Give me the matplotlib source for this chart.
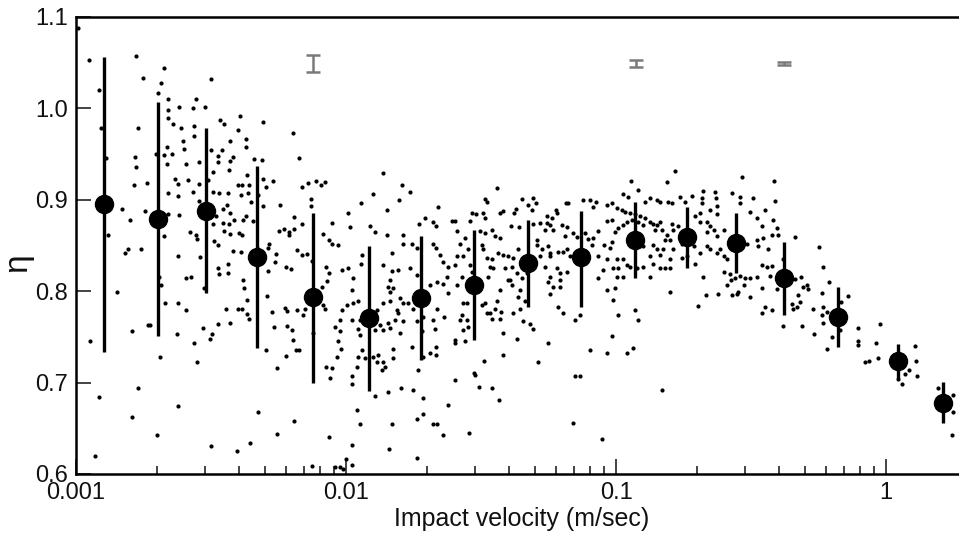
import numpy as np
import matplotlib.pyplot as plt
from matplotlib.ticker import LogLocator, NullFormatter, FormatStrFormatter

plt.rcParams['font.family'] = ['Liberation Sans', 'DejaVu Sans']

# binned averages with their spread
bin_velocity = [0.00127, 0.00201, 0.00303, 0.00468, 0.00755, 0.01217, 0.01896, 0.0298, 0.0472,
                0.0742, 0.1176, 0.1833, 0.278, 0.419, 0.664, 1.108, 1.626]
bin_eta = [0.895, 0.879, 0.888, 0.837, 0.794, 0.771, 0.793, 0.807, 0.831,
           0.837, 0.856, 0.859, 0.853, 0.814, 0.772, 0.724, 0.678]
bin_top = [1.056, 1.007, 0.979, 0.937, 0.886, 0.849, 0.860, 0.867, 0.878,
           0.888, 0.898, 0.892, 0.886, 0.854, 0.805, 0.742, 0.701]
bin_bottom = [0.733, 0.751, 0.798, 0.738, 0.700, 0.691, 0.725, 0.747, 0.783,
              0.783, 0.814, 0.825, 0.820, 0.774, 0.739, 0.705, 0.656]

# typical measurement error, drawn at the top
gray_velocity = [0.00755, 0.1186, 0.419]
gray_eta = [1.049, 1.049, 1.049]
gray_err = [0.0095, 0.0035, 0.002]

# single impacts: (log10 velocity, eta)
impacts = [
    (-2.993, 1.088), (-2.953, 1.053), (-2.778, 1.057), (-2.675, 1.044), (-2.753, 1.033), (-2.685, 1.028),
    (-2.502, 1.032), (-2.914, 1.020), (-2.695, 1.017), (-2.659, 1.010), (-2.556, 1.010), (-2.568, 1.000),
    (-2.522, 1.001), (-2.620, 1.001), (-2.658, 0.998), (-2.658, 0.990), (-2.640, 0.983), (-2.611, 0.978),
    (-2.562, 0.981), (-2.467, 0.987), (-2.453, 0.983), (-2.391, 0.992), (-2.306, 0.985), (-2.401, 0.976),
    (-2.370, 0.967), (-2.370, 0.958), (-2.430, 0.964), (-2.562, 0.970), (-2.772, 0.978), (-2.907, 0.979),
    (-2.605, 0.964), (-2.599, 0.956), (-2.664, 0.958), (-2.704, 0.950), (-2.673, 0.949), (-2.646, 0.950),
    (-2.664, 0.939), (-2.780, 0.947), (-2.778, 0.936), (-2.889, 0.946), (-2.593, 0.939), (-2.543, 0.941),
    (-2.500, 0.954), (-2.460, 0.954), (-2.475, 0.948), (-2.420, 0.947), (-2.475, 0.941), (-2.435, 0.933),
    (-2.430, 0.942), (-2.340, 0.945), (-2.312, 0.943), (-2.198, 0.973), (-2.633, 0.923), (-2.621, 0.917),
    (-2.586, 0.922), (-2.546, 0.917), (-2.491, 0.930), (-2.512, 0.922), (-2.784, 0.916), (-2.738, 0.918),
    (-2.660, 0.907), (-2.621, 0.904), (-2.568, 0.908), (-2.543, 0.899), (-2.494, 0.908), (-2.472, 0.907),
    (-2.438, 0.907), (-2.399, 0.916), (-2.385, 0.916), (-2.358, 0.916), (-2.364, 0.907), (-2.368, 0.927),
    (-2.309, 0.923), (-2.272, 0.921), (-2.296, 0.914), (-2.389, 0.905), (-2.327, 0.905), (-2.352, 0.898),
    (-2.309, 0.893), (-2.244, 0.894), (-2.442, 0.894), (-2.430, 0.885), (-2.457, 0.890), (-2.481, 0.882),
    (-2.494, 0.874), (-2.457, 0.875), (-2.432, 0.874), (-2.414, 0.878), (-2.383, 0.878), (-2.370, 0.882),
    (-2.346, 0.877), (-2.451, 0.866), (-2.428, 0.863), (-2.398, 0.864), (-2.386, 0.862), (-2.488, 0.855),
    (-2.475, 0.850), (-2.420, 0.844), (-2.389, 0.843), (-2.327, 0.846), (-2.290, 0.847), (-2.259, 0.841),
    (-2.315, 0.838), (-2.284, 0.852), (-2.249, 0.866), (-2.228, 0.868), (-2.210, 0.865), (-2.191, 0.868),
    (-2.210, 0.861), (-2.263, 0.832), (-2.290, 0.822), (-2.222, 0.827), (-2.204, 0.824), (-2.438, 0.830),
    (-2.475, 0.825), (-2.469, 0.819), (-2.438, 0.820), (-2.383, 0.812), (-2.377, 0.803), (-2.593, 0.814),
    (-2.574, 0.816), (-2.541, 0.837), (-2.556, 0.861), (-2.553, 0.857), (-2.577, 0.865), (-2.623, 0.838),
    (-2.620, 0.883), (-2.660, 0.884), (-2.673, 0.860), (-2.743, 0.888), (-2.759, 0.846), (-2.802, 0.878),
    (-2.830, 0.890), (-2.806, 0.846), (-2.819, 0.842), (-2.883, 0.861), (-2.691, 0.815), (-2.685, 0.807),
    (-2.525, 0.803),
    (-2.848, 0.799), (-2.948, 0.745), (-2.915, 0.684), (-2.930, 0.620), (-2.793, 0.756), (-2.770, 0.694),
    (-2.793, 0.662), (-2.733, 0.763),
    (-2.670, 0.787), (-2.621, 0.787), (-2.593, 0.779), (-2.726, 0.763), (-2.625, 0.753), (-2.531, 0.760),
    (-2.498, 0.753), (-2.504, 0.748), (-2.473, 0.764), (-2.430, 0.765), (-2.445, 0.781), (-2.399, 0.781),
    (-2.386, 0.781), (-2.366, 0.775), (-2.359, 0.770), (-2.368, 0.790), (-2.294, 0.795), (-2.296, 0.736),
    (-2.267, 0.761), (-2.273, 0.777), (-2.226, 0.782), (-2.220, 0.778), (-2.220, 0.762), (-2.201, 0.758),
    (-2.198, 0.747), (-2.186, 0.736), (-2.173, 0.736), (-2.222, 0.729), (-2.257, 0.716), (-2.689, 0.728),
    (-2.553, 0.722), (-2.562, 0.743), (-2.621, 0.674), (-2.699, 0.643), (-2.500, 0.631), (-2.403, 0.625),
    (-2.356, 0.634), (-2.325, 0.668), (-2.257, 0.644), (-2.191, 0.658),
    (-2.164, 0.874), (-2.053, 0.875), (-1.985, 0.870), (-1.911, 0.871), (-1.893, 0.865), (-1.849, 0.861),
    (-1.788, 0.861), (-1.728, 0.874), (-1.677, 0.876), (-1.667, 0.871), (-2.084, 0.863), (-2.065, 0.856),
    (-2.053, 0.852), (-2.028, 0.851), (-2.183, 0.845), (-2.146, 0.841), (-2.127, 0.833), (-2.164, 0.840),
    (-2.074, 0.826), (-2.065, 0.820), (-2.016, 0.823), (-1.991, 0.825), (-1.973, 0.814), (-1.942, 0.840),
    (-1.946, 0.830), (-1.862, 0.829), (-1.831, 0.822), (-1.806, 0.823), (-1.831, 0.842), (-1.788, 0.852),
    (-1.757, 0.852), (-1.738, 0.847), (-1.677, 0.852), (-1.667, 0.847), (-1.652, 0.840), (-1.640, 0.832),
    (-1.624, 0.827), (-1.627, 0.816), (-1.664, 0.810), (-1.640, 0.808), (-1.621, 0.798), (-1.689, 0.807),
    (-1.738, 0.818), (-1.763, 0.825), (-2.090, 0.805), (-2.072, 0.811), (-2.103, 0.790), (-2.084, 0.785),
    (-2.078, 0.780), (-2.152, 0.781), (-2.158, 0.774), (-2.183, 0.779), (-2.146, 0.790), (-2.016, 0.779),
    (-1.998, 0.785), (-1.977, 0.801), (-1.973, 0.787), (-1.957, 0.789), (-1.930, 0.776), (-1.948, 0.768),
    (-1.979, 0.768), (-2.022, 0.768), (-2.041, 0.761), (-2.022, 0.756), (-2.121, 0.754), (-2.028, 0.746),
    (-1.954, 0.759), (-1.948, 0.752), (-1.942, 0.736), (-1.930, 0.727), (-1.954, 0.728), (-1.899, 0.728),
    (-1.880, 0.730), (-1.886, 0.723), (-1.862, 0.723), (-1.856, 0.717), (-1.868, 0.714), (-1.825, 0.727),
    (-1.825, 0.737), (-1.800, 0.754), (-1.788, 0.767), (-1.819, 0.768), (-1.843, 0.765), (-1.862, 0.758),
    (-1.837, 0.760), (-1.874, 0.763), (-1.893, 0.758), (-1.886, 0.779), (-1.862, 0.787), (-1.837, 0.789),
    (-1.812, 0.779), (-1.800, 0.792), (-1.788, 0.787), (-1.769, 0.787), (-1.751, 0.781), (-1.837, 0.799),
    (-1.843, 0.805), (-1.825, 0.803), (-1.837, 0.812), (-1.806, 0.776), (-1.738, 0.767), (-1.720, 0.756),
    (-1.714, 0.772), (-1.677, 0.768), (-1.670, 0.759), (-1.664, 0.781), (-1.637, 0.772), (-1.689, 0.732),
    (-1.667, 0.730), (-1.667, 0.739), (-1.757, 0.739), (-1.732, 0.714), (-1.716, 0.728),
    (-2.074, 0.717), (-2.053, 0.716), (-2.059, 0.705), (-2.035, 0.728), (-2.020, 0.737), (-1.979, 0.707),
    (-1.979, 0.698), (-1.961, 0.717), (-1.893, 0.685), (-1.843, 0.690), (-1.798, 0.694), (-1.751, 0.692),
    (-1.716, 0.683), (-1.714, 0.666), (-1.738, 0.660), (-1.831, 0.655), (-1.677, 0.655), (-1.664, 0.655),
    (-1.642, 0.643), (-1.624, 0.676), (-1.958, 0.670), (-1.948, 0.655), (-1.977, 0.632), (-2.062, 0.640),
    (-2.127, 0.609), (-1.840, 0.627), (-1.738, 0.618), (-1.979, 0.610), (-2.000, 0.616), (-2.010, 0.606),
    (-2.022, 0.608), (-2.041, 0.608),
    (-2.174, 0.946), (-2.164, 0.914), (-2.140, 0.918), (-2.111, 0.921), (-2.094, 0.916), (-2.078, 0.919),
    (-2.130, 0.901), (-2.130, 0.893), (-2.191, 0.881), (-1.862, 0.929), (-1.794, 0.916), (-1.763, 0.909),
    (-1.804, 0.900), (-1.901, 0.906), (-1.944, 0.897), (-1.849, 0.889), (-1.991, 0.885), (-1.658, 0.892),
    (-1.707, 0.880),
    (-1.442, 0.913), (-1.485, 0.901), (-1.477, 0.898), (-1.350, 0.901), (-1.306, 0.902), (-1.296, 0.897),
    (-1.325, 0.894), (-1.185, 0.897), (-1.177, 0.897), (-1.121, 0.900), (-1.096, 0.900), (-1.075, 0.898),
    (-1.084, 0.892), (-1.035, 0.894), (-1.535, 0.886), (-1.520, 0.884), (-1.485, 0.880), (-1.492, 0.886),
    (-1.430, 0.885), (-1.420, 0.888), (-1.372, 0.890), (-1.378, 0.886), (-1.313, 0.889), (-1.222, 0.889),
    (-1.217, 0.886), (-1.609, 0.877), (-1.596, 0.877), (-1.541, 0.877), (-1.485, 0.864), (-1.504, 0.866),
    (-1.461, 0.867), (-1.448, 0.860), (-1.430, 0.858), (-1.390, 0.871), (-1.358, 0.870), (-1.306, 0.874),
    (-1.282, 0.875), (-1.257, 0.875), (-1.238, 0.880), (-1.257, 0.882), (-1.245, 0.872), (-1.263, 0.867),
    (-1.232, 0.867), (-1.201, 0.872), (-1.183, 0.870), (-1.189, 0.860), (-1.158, 0.864), (-1.146, 0.859),
    (-1.115, 0.864), (-1.103, 0.857), (-1.090, 0.851), (-1.084, 0.858), (-1.066, 0.866), (-1.045, 0.851),
    (-1.035, 0.877), (-1.590, 0.866), (-1.559, 0.858), (-1.578, 0.852), (-1.547, 0.846), (-1.590, 0.838),
    (-1.566, 0.838), (-1.498, 0.851), (-1.492, 0.846), (-1.479, 0.836), (-1.461, 0.835), (-1.436, 0.842),
    (-1.417, 0.840), (-1.399, 0.838), (-1.380, 0.836), (-1.362, 0.846), (-1.294, 0.856), (-1.292, 0.851),
    (-1.275, 0.846), (-1.251, 0.849), (-1.245, 0.842), (-1.245, 0.838), (-1.214, 0.843), (-1.195, 0.843),
    (-1.183, 0.846), (-1.171, 0.838), (-1.282, 0.838), (-1.306, 0.835), (-1.263, 0.827), (-1.220, 0.825),
    (-1.208, 0.820), (-1.183, 0.821), (-1.245, 0.816), (-1.251, 0.810), (-1.208, 0.812), (-1.208, 0.805),
    (-1.232, 0.805), (-1.245, 0.797), (-1.066, 0.838), (-1.035, 0.835), (-1.047, 0.823), (-1.066, 0.814),
    (-1.035, 0.801), (-1.596, 0.829), (-1.590, 0.807), (-1.572, 0.816), (-1.541, 0.829), (-1.535, 0.821),
    (-1.467, 0.827), (-1.455, 0.825), (-1.411, 0.825), (-1.387, 0.827), (-1.393, 0.812), (-1.368, 0.820),
    (-1.350, 0.814), (-1.473, 0.816), (-1.430, 0.801), (-1.399, 0.812), (-1.387, 0.807), (-1.356, 0.801),
    (-1.362, 0.794), (-1.337, 0.789), (-1.331, 0.820), (-1.566, 0.787), (-1.553, 0.787), (-1.498, 0.785),
    (-1.485, 0.787), (-1.442, 0.789), (-1.448, 0.781), (-1.467, 0.776), (-1.427, 0.777), (-1.430, 0.770),
    (-1.461, 0.770), (-1.479, 0.776), (-1.572, 0.774), (-1.578, 0.768), (-1.553, 0.768), (-1.547, 0.761),
    (-1.566, 0.758), (-1.559, 0.745), (-1.596, 0.747), (-1.596, 0.743), (-1.417, 0.754), (-1.380, 0.776),
    (-1.356, 0.780), (-1.343, 0.767), (-1.319, 0.764), (-1.306, 0.759), (-1.214, 0.783), (-1.195, 0.776),
    (-1.152, 0.768), (-1.134, 0.774), (-1.096, 0.736), (-1.035, 0.732), (-1.417, 0.730), (-1.251, 0.743),
    (-1.368, 0.748),
    (-1.526, 0.711), (-1.522, 0.708), (-1.596, 0.703), (-1.506, 0.695), (-1.460, 0.694), (-1.433, 0.681),
    (-1.488, 0.724), (-1.543, 0.645), (-1.288, 0.722), (-1.160, 0.656), (-1.152, 0.707), (-1.133, 0.707),
    (-1.053, 0.638),
    (-0.781, 0.932), (-0.810, 0.919), (-0.945, 0.921), (-0.917, 0.911), (-0.973, 0.906), (-0.954, 0.903),
    (-1.016, 0.896), (-0.997, 0.891), (-0.979, 0.889), (-0.967, 0.887), (-0.948, 0.885), (-0.930, 0.884),
    (-0.911, 0.882), (-0.893, 0.880), (-0.874, 0.876), (-0.862, 0.874), (-0.849, 0.872), (-0.837, 0.876),
    (-0.831, 0.867), (-0.856, 0.867), (-0.899, 0.872), (-0.917, 0.876), (-0.942, 0.878), (-0.960, 0.876),
    (-0.973, 0.872), (-0.991, 0.869), (-1.004, 0.865), (-1.016, 0.878), (-0.893, 0.898), (-0.874, 0.902),
    (-0.849, 0.900), (-0.837, 0.898), (-0.806, 0.898), (-0.794, 0.896), (-0.763, 0.903), (-0.744, 0.898),
    (-0.720, 0.904), (-0.679, 0.910), (-0.683, 0.902), (-0.680, 0.896), (-0.633, 0.909), (-0.629, 0.902),
    (-0.627, 0.893), (-0.652, 0.889), (-0.627, 0.884), (-0.689, 0.885), (-0.707, 0.882), (-0.689, 0.876),
    (-0.664, 0.876), (-0.652, 0.871), (-0.664, 0.865), (-0.639, 0.867), (-0.627, 0.860), (-0.602, 0.867),
    (-0.571, 0.907), (-0.541, 0.903), (-0.534, 0.925), (-0.491, 0.902), (-0.541, 0.896), (-0.503, 0.887),
    (-0.479, 0.880), (-0.448, 0.889), (-0.460, 0.871), (-0.454, 0.858), (-0.479, 0.856), (-0.473, 0.849),
    (-0.516, 0.852), (-0.615, 0.846), (-0.602, 0.838), (-0.590, 0.835), (-0.627, 0.842), (-0.652, 0.846),
    (-0.664, 0.849), (-0.689, 0.842), (-0.707, 0.830), (-0.738, 0.838), (-0.757, 0.836), (-0.713, 0.849),
    (-0.757, 0.852), (-0.788, 0.846), (-0.800, 0.856), (-0.812, 0.862), (-0.788, 0.867), (-0.769, 0.871),
    (-0.794, 0.874), (-0.818, 0.856), (-0.825, 0.846), (-0.837, 0.840), (-0.800, 0.835), (-0.800, 0.825),
    (-0.818, 0.825), (-0.837, 0.825), (-0.862, 0.830), (-0.899, 0.827), (-0.874, 0.816), (-0.924, 0.825),
    (-0.948, 0.827), (-0.960, 0.829), (-0.973, 0.835), (-0.997, 0.835), (-0.991, 0.825), (-1.010, 0.825),
    (-1.022, 0.847), (-0.997, 0.816), (-0.973, 0.815), (-0.862, 0.851), (-0.849, 0.846), (-0.874, 0.838),
    (-0.899, 0.849), (-1.016, 0.854), (-1.004, 0.803), (-1.010, 0.790), (-0.991, 0.774), (-0.930, 0.779),
    (-0.917, 0.768), (-1.016, 0.751), (-0.938, 0.738), (-0.960, 0.732), (-0.800, 0.799), (-0.695, 0.784),
    (-0.666, 0.796), (-0.621, 0.797), (-0.590, 0.807), (-0.575, 0.812), (-0.559, 0.814), (-0.541, 0.817),
    (-0.522, 0.814), (-0.503, 0.814), (-0.479, 0.816), (-0.528, 0.807), (-0.547, 0.799), (-0.571, 0.796),
    (-0.553, 0.797), (-0.503, 0.794), (-0.460, 0.803), (-0.578, 0.819), (-0.602, 0.821), (-0.460, 0.829),
    (-0.442, 0.827), (-0.448, 0.783), (-0.460, 0.776), (-0.436, 0.846), (-0.677, 0.816), (-0.830, 0.692),
    (-0.415, 0.921), (-0.411, 0.899), (-0.418, 0.878), (-0.403, 0.869), (-0.424, 0.861), (-0.399, 0.861),
    (-0.337, 0.859), (-0.247, 0.848), (-0.232, 0.826), (-0.424, 0.828), (-0.383, 0.835), (-0.430, 0.817),
    (-0.405, 0.802), (-0.315, 0.816), (-0.337, 0.813), (-0.307, 0.805), (-0.292, 0.807), (-0.288, 0.802),
    (-0.325, 0.796), (-0.319, 0.788), (-0.350, 0.786), (-0.331, 0.783), (-0.344, 0.780), (-0.424, 0.779),
    (-0.210, 0.810), (-0.239, 0.798), (-0.232, 0.783), (-0.140, 0.795), (-0.168, 0.788), (-0.272, 0.781),
    (-0.239, 0.774), (-0.220, 0.777), (-0.232, 0.765), (-0.171, 0.757), (-0.202, 0.750), (-0.267, 0.753),
    (-0.218, 0.737), (-0.383, 0.762), (-0.310, 0.762), (-0.103, 0.760), (-0.023, 0.764), (-0.103, 0.745),
    (-0.103, 0.741), (-0.039, 0.743), (-0.031, 0.727), (-0.078, 0.723), (-0.063, 0.724), (0.107, 0.740),
    (0.110, 0.724), (0.114, 0.707), (0.086, 0.714), (0.070, 0.709), (0.045, 0.704), (0.058, 0.698),
    (0.191, 0.694), (0.247, 0.686), (0.247, 0.668), (0.243, 0.643),
]

log_v, eta = np.array(impacts).T
velocity = 10 ** log_v

fig = plt.figure(figsize=(9.59, 5.36), dpi=100)
ax = fig.add_axes([0.0793, 0.1157, 0.9294, 0.8526])

ax.scatter(velocity, eta, s=9, c='black', linewidths=0, zorder=2)

yerr = [np.subtract(bin_eta, bin_bottom), np.subtract(bin_top, bin_eta)]
ax.errorbar(bin_velocity, bin_eta, yerr=yerr, fmt='o', ms=13, color='black',
            elinewidth=2.4, capsize=0, zorder=3)
ax.errorbar(gray_velocity, gray_eta, yerr=gray_err, fmt='none', ecolor='#7a7a7a',
            elinewidth=1.8, capsize=4.8, capthick=1.8, zorder=3)

ax.set_xscale('log')
ax.set_xlim(0.001, 2)
ax.set_ylim(0.6, 1.1)
ax.set_xticks([0.001, 0.01, 0.1, 1])
ax.set_xticklabels(['0.001', '0.01', '0.1', '1'])
ax.xaxis.set_minor_locator(LogLocator(base=10, subs=np.arange(2, 10)))
ax.xaxis.set_minor_formatter(NullFormatter())
ax.set_yticks([0.6, 0.7, 0.8, 0.9, 1.0, 1.1])
ax.yaxis.set_major_formatter(FormatStrFormatter('%.1f'))

ax.tick_params(which='both', direction='in', top=False, right=False, colors='#111111')
ax.tick_params(which='major', length=10.8, width=1.1, labelsize=17, pad=6)
ax.tick_params(which='minor', length=5.6, width=1.1)
for sp in ax.spines.values():
    sp.set_linewidth(1.8)

ax.set_xlabel('Impact velocity (m/sec)', fontsize=18, labelpad=2, color='#111111')
ax.set_ylabel('η', fontsize=24, color='#111111')
ax.yaxis.set_label_coords(-0.048, 0.463)

fig.savefig('out.png', dpi=100)
